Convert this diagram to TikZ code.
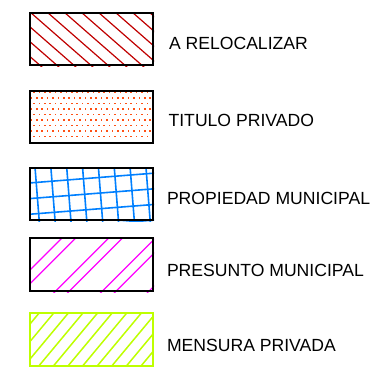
\documentclass[tikz,border=0pt]{standalone}
\usepackage{fontspec}
\setmainfont{Liberation Sans}
\usetikzlibrary{backgrounds}
\definecolor{hred}{RGB}{192,0,0}
\definecolor{hdot}{RGB}{255,80,20}
\definecolor{hblue}{RGB}{0,128,255}
\definecolor{hmag}{RGB}{255,0,255}
\definecolor{hgreen}{RGB}{190,255,0}
\begin{document}
\begin{tikzpicture}[x=1pt,y=-1pt,
  legbox/.style={draw=black,line width=2pt,minimum width=123pt,minimum height=52pt,inner sep=0pt,anchor=north west},
  leglabel/.style={anchor=base west,inner sep=0pt,font=\fontsize{17.6}{20}\selectfont},
  redhatch/.style={hred,line width=1.2pt},
  bluegrid/.style={hblue,line width=1.6pt},
  maghatch/.style={hmag,line width=1.2pt},
  greenhatch/.style={hgreen,line width=1.5pt}]
\useasboundingbox (0,0) rectangle (382,372);

% boxes
\node[legbox] (b1) at (29,12) {};
\node[legbox] (b2) at (29,90) {};
\node[legbox] (b3) at (29,167) {};
\node[legbox,minimum height=53pt] (b4) at (29,237) {};
\node[legbox,minimum height=53pt,draw=hgreen,line width=1.6pt] (b5) at (29,312) {};

% hatches
\begin{scope}[on background layer]
  \begin{scope}
    \clip (b1.north west) rectangle (b1.south east);
    \foreach \i in {-5,...,8}
      \draw[redhatch] ({30+17*\i},12) -- ({30+17*\i+68.6},72);
  \end{scope}
  \begin{scope}
    \clip (b2.north west) rectangle (b2.south east);
    \foreach \r in {0,...,8}{
      \foreach \c in {0,...,22}{
        \pgfmathsetmacro{\px}{34+5.4*\c-2.7*mod(\r,2)}
        \pgfmathsetmacro{\py}{92.3+5.5*\r}
        \fill[hdot] ({\px-0.8},{\py-0.8}) rectangle ++(1.6,1.6);
      }
    }
  \end{scope}
  \begin{scope}
    \clip (b3.north west) rectangle (b3.south east);
    \begin{scope}[rotate around={4.5:(90.5,193)}]
      \foreach \k in {-5,...,5}
        \draw[bluegrid] ({84.6+15.8*\k},130) -- ({84.6+15.8*\k},260);
      \foreach \k in {-3,...,3}
        \draw[bluegrid] (0,{178.2+15.6*\k}) -- (180,{178.2+15.6*\k});
    \end{scope}
  \end{scope}
  \begin{scope}
    \clip (b4.north west) rectangle (b4.south east);
    \foreach \k in {-1,...,4}{
      \draw[maghatch] ({46.7*\k},300) -- ({46.7*\k+80},220);
      \draw[maghatch] ({46.7*\k+13.8},300) -- ({46.7*\k+13.8+80},220);
    }
  \end{scope}
  \begin{scope}
    \clip (b5.north west) rectangle (b5.south east);
    \foreach \k in {-2,...,16}
      \draw[greenhatch] ({40+14.6*\k+8.33},302) -- ({40+14.6*\k-50},372);
  \end{scope}
\end{scope}

% labels
\node[leglabel] (t1) at (168.8,49.3) {A RELOCALIZAR};
\node[leglabel] (t2) at (168.4,126.7) {TITULO PRIVADO};
\node[leglabel] (t3) at (166.8,204.3) {PROPIEDAD MUNICIPAL};
\node[leglabel] (t4) at (166.8,276.3) {PRESUNTO MUNICIPAL};
\node[leglabel] (t5) at (166.8,351.3) {MENSURA PRIVADA};
\end{tikzpicture}
\end{document}
